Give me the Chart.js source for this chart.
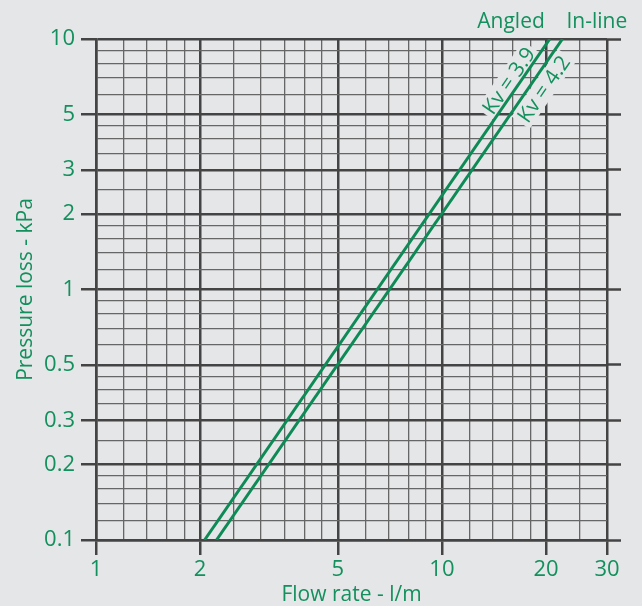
<!DOCTYPE html>
<html>
<head>
<meta charset="utf-8">
<script src="https://cdn.jsdelivr.net/npm/chart.js@4.4.0/dist/chart.umd.min.js"></script>
<style>
  html, body { margin: 0; padding: 0; background: #e5e6e8; }
  #wrap { width: 642px; height: 606px; position: relative; }
</style>
</head>
<body>
<div id="wrap"><canvas id="lossChart"></canvas></div>
<script>
// each line is straight on log-log paper
const flowAngled = [2.06, 20.5];
const lossAngled = [0.1, 10];
const flowInline = [2.23, 22.3];
const lossInline = [0.1, 10];
const seriesNames = ['Angled', 'In-line'];
const kvLabels = ['Kv = 3.9', 'Kv = 4.2'];

const xMajor = [1, 2, 5, 10, 20, 30];
const xMinor = [1.2, 1.4, 1.6, 1.8, 2.5, 3, 3.5, 4, 4.5, 6, 7, 8, 9, 12, 14, 16, 18, 25];
const yMajor = [0.1, 0.2, 0.3, 0.5, 1, 2, 3, 5, 10];
const yMinor = [0.12, 0.14, 0.16, 0.18, 0.25, 0.35, 0.4, 0.45, 0.6, 0.7, 0.8, 0.9,
                1.2, 1.4, 1.6, 1.8, 2.5, 3.5, 4, 4.5, 6, 7, 8, 9];

const green = '#13905d';
const lineGreen = '#0d8a55';
const dark = '#444444';
const minor = '#666666';
const bg = '#e5e6e8';
const font = { family: '"Open Sans", sans-serif', size: 21 };
const tickFont = { family: '"Open Sans", sans-serif', size: 22 };

const toPoints = (xs, ys) => xs.map((v, i) => ({ x: v, y: ys[i] }));

// label placement along each line (fraction of length, perpendicular px)
const labelAt = [0.905, 0.915];
const labelOff = [10, -13];

const labelPlugin = {
  id: 'kvLabels',
  beforeDatasetsDraw(chart) {
    const { ctx, scales: { x, y } } = chart;
    chart.data.datasets.forEach((ds, i) => {
      const a = ds.data[0], b = ds.data[ds.data.length - 1];
      const x1 = x.getPixelForValue(a.x), y1 = y.getPixelForValue(a.y);
      const x2 = x.getPixelForValue(b.x), y2 = y.getPixelForValue(b.y);
      const len = Math.hypot(x2 - x1, y2 - y1);
      const ux = (x2 - x1) / len, uy = (y2 - y1) / len;
      const cx = x1 + ux * len * labelAt[i] + uy * labelOff[i];
      const cy = y1 + uy * len * labelAt[i] - ux * labelOff[i];
      ctx.save();
      ctx.translate(cx, cy);
      ctx.rotate(Math.atan2(y2 - y1, x2 - x1));
      ctx.font = `${font.size}px ${font.family}`;
      const w = ctx.measureText(kvLabels[i]).width;
      ctx.fillStyle = bg;
      ctx.fillRect(-w / 2 - 3, -11, w + 6, 22);
      ctx.fillStyle = green;
      ctx.textAlign = 'center';
      ctx.textBaseline = 'middle';
      ctx.fillText(kvLabels[i], 0, 1);
      ctx.restore();
    });
  },
  afterDraw(chart) {
    const { ctx, chartArea, scales: { x } } = chart;
    ctx.save();
    ctx.font = `${font.size}px ${font.family}`;
    ctx.fillStyle = green;
    ctx.textBaseline = 'alphabetic';
    chart.data.datasets.forEach((ds, i) => {
      const top = ds.data[ds.data.length - 1];
      const px = x.getPixelForValue(top.x);
      ctx.textAlign = i === 0 ? 'right' : 'left';
      ctx.fillText(seriesNames[i], i === 0 ? px - 5 : px + 4, chartArea.top - 11);
    });
    ctx.restore();
  }
};

const isIn = (arr, v) => arr.some(m => Math.abs(m - v) < 1e-9);

new Chart(document.getElementById('lossChart'), {
  type: 'line',
  data: {
    datasets: [
      { label: seriesNames[0], data: toPoints(flowAngled, lossAngled) },
      { label: seriesNames[1], data: toPoints(flowInline, lossInline) }
    ].map(d => Object.assign(d, { borderColor: lineGreen, borderWidth: 3, pointRadius: 0, fill: false }))
  },
  options: {
    responsive: true,
    maintainAspectRatio: false,
    animation: false,
    events: [],
    layout: { padding: { top: 39, right: 0, left: 0, bottom: 0 } },
    plugins: { legend: { display: false }, tooltip: { enabled: false } },
    scales: {
      x: {
        type: 'logarithmic', min: 1, max: 30,
        afterBuildTicks: s => { s.ticks = xMajor.concat(xMinor).sort((p, q) => p - q).map(v => ({ value: v })); },
        afterFit: s => { s.height = 66; },
        ticks: {
          autoSkip: false, maxRotation: 0, padding: 2, color: green, font: tickFont,
          callback: v => isIn(xMajor, v) ? String(v) : ''
        },
        grid: {
          color: c => isIn(xMajor, c.tick.value) ? dark : minor,
          lineWidth: c => isIn(xMajor, c.tick.value) ? 2.5 : 1.3,
          tickLength: 15,
          tickColor: c => isIn(xMajor, c.tick.value) ? dark : 'rgba(0,0,0,0)',
          tickWidth: 2.5
        },
        border: { color: dark, width: 2.5 },
        title: { display: true, text: 'Flow rate - l/m', color: green, font, padding: { top: 0, bottom: -2 } }
      },
      y: {
        type: 'logarithmic', min: 0.1, max: 10,
        afterBuildTicks: s => { s.ticks = yMajor.concat(yMinor).sort((p, q) => p - q).map(v => ({ value: v })); },
        afterFit: s => { s.width = 96; },
        ticks: {
          autoSkip: false, padding: 6, color: green, font: tickFont,
          callback: v => isIn(yMajor, v) ? String(v) : ''
        },
        grid: {
          color: c => isIn(yMajor, c.tick.value) ? dark : minor,
          lineWidth: c => isIn(yMajor, c.tick.value) ? 2.5 : 1.3,
          tickLength: 15,
          tickColor: c => isIn(yMajor, c.tick.value) ? dark : 'rgba(0,0,0,0)',
          tickWidth: 2.5
        },
        border: { color: dark, width: 2.5 },
        title: { display: true, text: 'Pressure loss - kPa', color: green, font, padding: { top: 13, bottom: 0 } }
      },
      yRight: {
        type: 'logarithmic', position: 'right', min: 0.1, max: 10,
        afterBuildTicks: s => { s.ticks = yMajor.map(v => ({ value: v })); },
        afterFit: s => { s.width = 35; },
        ticks: { display: false },
        grid: { drawOnChartArea: false, tickLength: 14, tickColor: dark, tickWidth: 2.5 },
        border: { display: false }
      }
    }
  },
  plugins: [labelPlugin]
});
</script>
</body>
</html>
